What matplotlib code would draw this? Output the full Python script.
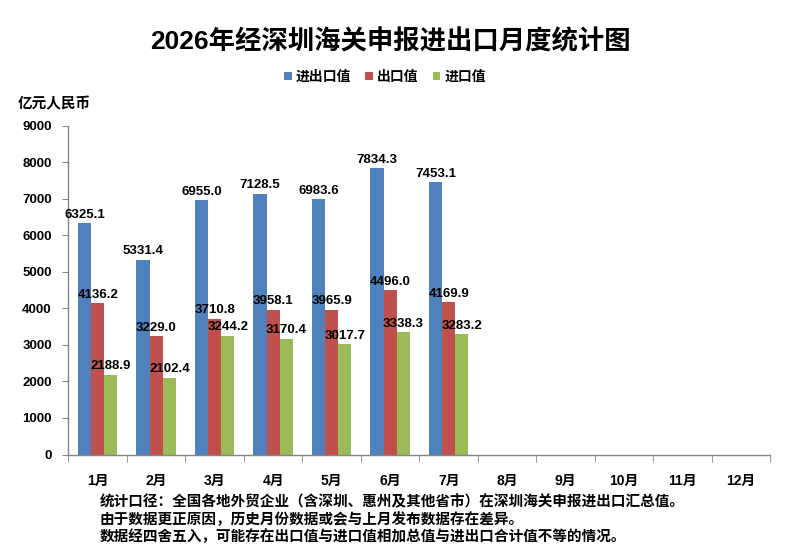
import matplotlib
matplotlib.use("Agg")
import matplotlib.pyplot as plt
import numpy as np

plt.rcParams['font.family'] = ['Liberation Sans', 'Noto Sans CJK SC', 'DejaVu Sans']
plt.rcParams['font.weight'] = 'bold'

months = ["1月", "2月", "3月", "4月", "5月", "6月", "7月", "8月", "9月", "10月", "11月", "12月"]
total_vals = [6325.1, 5331.4, 6955.0, 7128.5, 6983.6, 7834.3, 7453.1]
export_vals = [4136.2, 3229.0, 3710.8, 3958.1, 3965.9, 4496.0, 4169.9]
import_vals = [2188.9, 2102.4, 3244.2, 3170.4, 3017.7, 3338.3, 3283.2]
series_names = ["进出口值", "出口值", "进口值"]
colors = ["#4F81BD", "#C0504D", "#9BBB59"]
yticks = [0, 1000, 2000, 3000, 4000, 5000, 6000, 7000, 8000, 9000]
notes = ["统计口径：全国各地外贸企业（含深圳、惠州及其他省市）在深圳海关申报进出口汇总值。",
         "由于数据更正原因，历史月份数据或会与上月发布数据存在差异。",
         "数据经四舍五入，可能存在出口值与进口值相加总值与进出口合计值不等的情况。"]

fig = plt.figure(figsize=(7.99, 5.5), dpi=100)
ax = fig.add_axes([0.0857, 0.1736, 0.8786, 0.5982])

w = 0.225
x = np.arange(len(total_vals))
all_series = [total_vals, export_vals, import_vals]
bars_list = []
for i, (vals, c, name) in enumerate(zip(all_series, colors, series_names)):
    b = ax.bar(x + (i - 1) * w, vals, width=w, color=c, label=name, zorder=2)
    bars_list.append(b)

for vals, b in zip(all_series, bars_list):
    for rect, v in zip(b, vals):
        ax.annotate(f"{v:.1f}", (rect.get_x() + rect.get_width() / 2, v),
                    xytext=(0, 10), textcoords='offset pixels',
                    ha='center', va='center_baseline', fontsize=9.5,
                    fontweight='bold', zorder=5)

ax.set_xlim(-0.5, len(months) - 0.5)
ax.set_ylim(0, 9000)
ax.set_yticks(yticks)
ax.set_yticklabels([str(t) for t in yticks], fontsize=9.5, fontweight='bold')
ax.set_xticks(np.arange(len(months)))
ax.set_xticklabels(months, fontsize=10, fontweight='bold')
ax.set_xticks(np.arange(len(months) + 1) - 0.5, minor=True)
ax.tick_params(axis='x', which='major', length=0, pad=14)
ax.tick_params(axis='x', which='minor', length=5, color='#868686', direction='out')
ax.tick_params(axis='y', length=4, color='#868686', direction='out', pad=8)
for s in ['top', 'right']:
    ax.spines[s].set_visible(False)
for s in ['left', 'bottom']:
    ax.spines[s].set_color('#868686')
    ax.spines[s].set_linewidth(1.0)

fig.text(0.489, 0.924, "2026年经深圳海关申报进出口月度统计图", ha='center', va='center',
         fontsize=19, fontweight='bold')
fig.text(0.022, 0.811, "亿元人民币", ha='left', va='center', fontsize=10.5, fontweight='bold')

leg = fig.legend(loc='center', bbox_to_anchor=(0.482, 0.86), ncol=3, frameon=False,
                 handlelength=0.55, handleheight=0.55, handletextpad=0.3, columnspacing=1.0,
                 prop={'size': 10, 'weight': 'bold'})

for k, line in enumerate(notes):
    fig.text(0.125, (550 - 502 - 17.5 * k) / 550, line, ha='left', va='center',
             fontsize=10.5, fontweight='bold')

fig.savefig("out.png", dpi=100)
